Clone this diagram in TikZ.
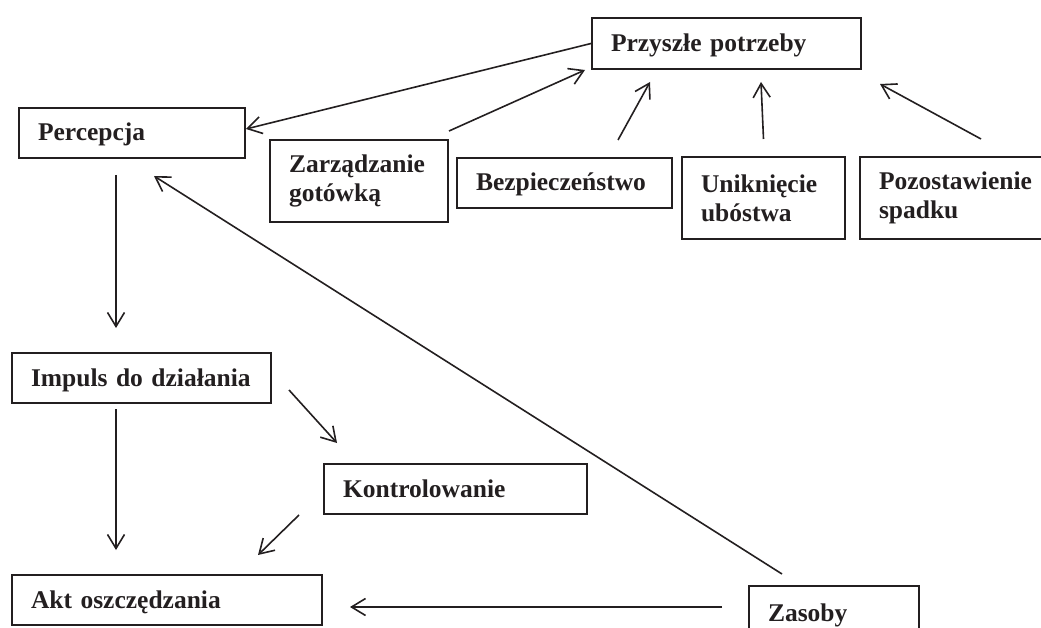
\documentclass[tikz,border=0pt]{standalone}
\usepackage{fontspec}
\setmainfont{Liberation Serif}
\usetikzlibrary{arrows.meta}
\definecolor{ink}{RGB}{35,31,32}
\begin{document}
\begin{tikzpicture}[x=1pt,y=-1pt,
  box/.style={draw=ink, line width=2pt, anchor=north west, inner xsep=19pt, inner ysep=0pt, align=left, text=ink, font=\bfseries\fontsize{25.5}{29}\selectfont},
  one/.style={text height=18pt, text depth=2pt},
  link/.style={draw=ink, line width=1.6pt, -{Straight Barb[length=14pt,width=17pt]}}]
\useasboundingbox (0,0) rectangle (1041,628);
\clip (0,0) rectangle (1041,628);
\node[box, one, text width=231pt, minimum height=51pt] (pp) at (591,17) {Przyszłe potrzeby};
\node[box, one, text width=188pt, minimum height=50pt] (perc) at (18,107) {Percepcja};
\node[box, text width=140pt, minimum height=82pt] (zg) at (269,139) {Zarządzanie\\gotówką};
\node[box, one, text width=177pt, minimum height=50pt] (bez) at (456,157) {Bezpieczeństwo};
\node[box, text width=125pt, minimum height=82pt] (uu) at (681,156) {Uniknięcie\\ubóstwa};
\node[box, text width=163pt, minimum height=82pt] (ps) at (859,156) {Pozostawienie\\spadku};
\node[box, one, text width=221pt, minimum height=50pt] (imp) at (11,352) {Impuls do działania};
\node[box, one, text width=225pt, minimum height=50pt] (kon) at (323,463) {Kontrolowanie};
\node[box, one, text width=272pt, minimum height=50pt] (akt) at (11,574) {Akt oszczędzania};
\node[box, text width=132pt, minimum height=75pt, text height=18pt, text depth=22pt] (zas) at (748,585) {Zasoby};

\draw[link] (pp.west) -- ([yshift=4pt]perc.east);
\draw[link] ([yshift=8pt]zg.north east) -- ([xshift=-6pt]pp.south west);
\draw[link] ([xshift=162pt,yshift=17pt]bez.north west) -- ([xshift=59pt,yshift=-12pt]pp.south west);
\draw[link] ([yshift=17pt]uu.north) -- ([xshift=170pt,yshift=-12pt]pp.south west);
\draw[link] ([xshift=122pt,yshift=17pt]ps.north west) -- ([xshift=18pt,yshift=-14pt]pp.south east);
\draw[link] ([xshift=98pt,yshift=-16pt]perc.south west) -- ([xshift=105pt,yshift=24pt]imp.north west);
\draw[link] ([xshift=34pt,yshift=11pt]zas.north west) -- ([xshift=136pt,yshift=-17pt]perc.south west);
\draw[link] ([xshift=17pt,yshift=-12pt]imp.east) -- ([xshift=14pt,yshift=20pt]kon.north west);
\draw[link] ([xshift=105pt,yshift=-5pt]imp.south west) -- ([xshift=105pt,yshift=24pt]akt.north west);
\draw[link] ([xshift=-24pt]kon.south west) -- ([xshift=247pt,yshift=19pt]akt.north west);
\draw[link] ([xshift=-26pt,yshift=-22pt]zas.north west) -- ([xshift=27pt,yshift=-33pt]akt.north east);
\end{tikzpicture}
\end{document}
